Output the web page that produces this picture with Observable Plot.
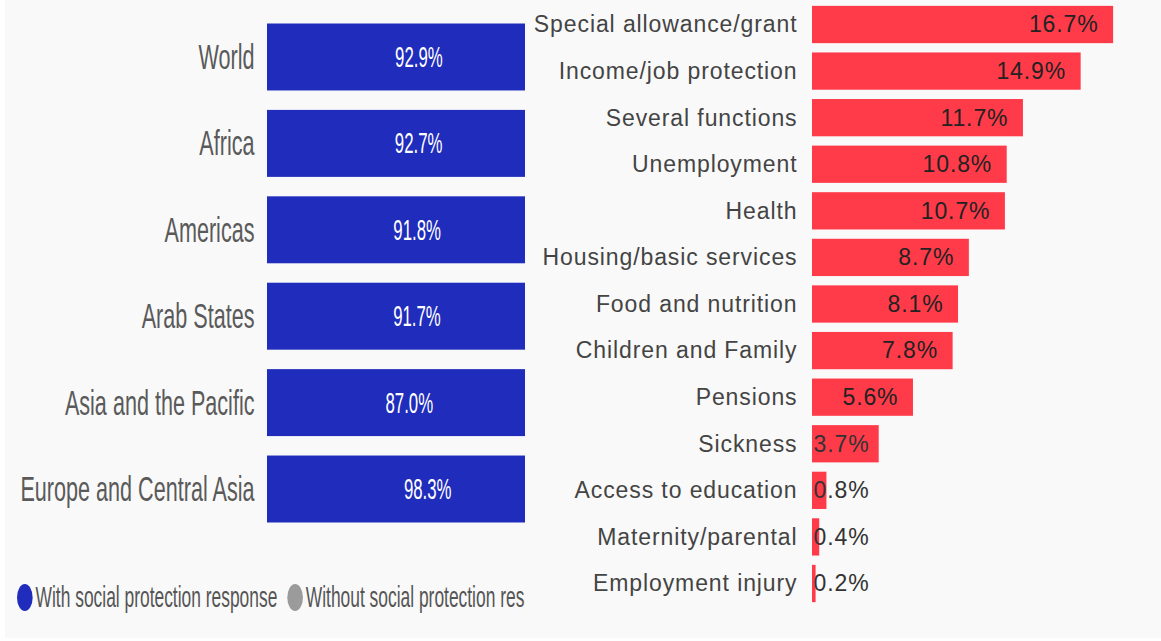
<!DOCTYPE html>
<html>
<head>
<meta charset="utf-8">
<script src="https://cdn.jsdelivr.net/npm/d3@7"></script>
<script src="https://cdn.jsdelivr.net/npm/@observablehq/plot@0.6"></script>
<style>
  html, body { margin: 0; padding: 0; background: #ffffff; }
  #page { position: relative; width: 1161px; height: 641px; overflow: hidden; }
  #bg { position: absolute; left: 5px; top: 0; width: 1156px; height: 638px; background: #f9f9f9; }
  #left { position: absolute; left: 0; top: 0; width: 525px; height: 546px; overflow: hidden; }
  #right { position: absolute; left: 525px; top: 0; width: 636px; height: 608px; overflow: hidden; }
  #legendClip { position: absolute; left: 0; top: 580px; width: 525px; height: 36px; overflow: hidden; }
  #legend { position: absolute; left: 17px; top: 0; height: 34px; line-height: 34px; white-space: nowrap;
            font-family: "Liberation Sans", Arial, sans-serif; font-size: 30px; color: #555;
            transform: scaleX(0.58); transform-origin: 0 0; display: flex; align-items: center; }
  .item { display: inline-flex; align-items: center; }
  .swatch { display: inline-block; width: 27px; height: 27px; border-radius: 50%; margin-right: 5px; }
  .item + .item { margin-left: 17px; }
</style>
</head>
<body>
<div id="page">
  <div id="bg"></div>
  <div id="left"></div>
  <div id="right"></div>
  <div id="legendClip"><div id="legend"></div></div>
</div>
<script>
// ---- data ----
const regions = ["World", "Africa", "Americas", "Arab States", "Asia and the Pacific", "Europe and Central Asia"];
const withResponse = [92.9, 92.7, 91.8, 91.7, 87.0, 98.3];
const statusLabels = ["With social protection response", "Without social protection response"];
const statusColors = ["#1f2cbc", "#9b9b9b"];

const functions = ["Special allowance/grant", "Income/job protection", "Several functions", "Unemployment",
  "Health", "Housing/basic services", "Food and nutrition", "Children and Family", "Pensions",
  "Sickness", "Access to education", "Maternity/parental", "Employment injury"];
const functionShares = [16.7, 14.9, 11.7, 10.8, 10.7, 8.7, 8.1, 7.8, 5.6, 3.7, 0.8, 0.4, 0.2];

// ---- left panel: regions ----
const leftRows = regions.flatMap((r, i) => [
  {region: r, status: statusLabels[0], value: withResponse[i]},
  {region: r, status: statusLabels[1], value: +(100 - withResponse[i]).toFixed(1)}
]);
const withRows = regions.map((r, i) => ({region: r, value: withResponse[i]}));

const leftPlot = Plot.plot({
  width: 525, height: 546,
  marginLeft: 267, marginRight: 0, marginTop: 0, marginBottom: 0,
  style: {background: "transparent", fontFamily: "Liberation Sans, Arial, sans-serif", color: "#5a5a5a"},
  x: {domain: [0, 100], range: [267, 593], axis: null},
  y: {domain: regions, paddingInner: 0.225, paddingOuter: 0.272, round: false, axis: null},
  color: {domain: statusLabels, range: statusColors},
  marks: [
    Plot.barX(leftRows, {x: "value", y: "region", fill: "status"}),
    Plot.text(withRows, {x: d => d.value / 2, y: "region", text: d => d.value.toFixed(1) + "%",
      fill: "white", fontSize: 30}),
    Plot.text(withRows, {x: 0, y: "region", text: "region", textAnchor: "end", dx: -13,
      fill: "#5a5a5a", fontSize: 36})
  ]
});

function squeeze(svg, k, filter) {
  svg.querySelectorAll("text").forEach(t => {
    const kk = typeof k === "function" ? k(t) : k;
    const tr = t.getAttribute("transform");
    if (tr) t.setAttribute("transform", tr + ` scale(${kk},1)`);
    else {
      const x = +t.getAttribute("x") || 0, y = +t.getAttribute("y") || 0;
      t.setAttribute("transform", `translate(${x},${y}) scale(${kk},1)`);
      t.setAttribute("x", 0); t.setAttribute("y", 0);
    }
  });
}
// value labels (white) slightly narrower than category labels
squeeze(leftPlot, t => {
  const f = t.getAttribute("fill") || (t.parentNode && t.parentNode.getAttribute("fill"));
  return f === "white" ? 0.56 : 0.6;
});
document.getElementById("left").appendChild(leftPlot);

// legend
const legend = document.getElementById("legend");
statusLabels.forEach((lab, i) => {
  const item = document.createElement("span");
  item.className = "item";
  const sw = document.createElement("span");
  sw.className = "swatch";
  sw.style.background = statusColors[i];
  const tx = document.createElement("span");
  tx.textContent = lab;
  item.appendChild(sw); item.appendChild(tx);
  legend.appendChild(item);
});

// ---- right panel: functions ----
const fnRows = functions.map((f, i) => ({fn: f, value: functionShares[i]}));
const insideMin = 4.5;
const rightPlot = Plot.plot({
  width: 636, height: 608,
  marginLeft: 287, marginRight: 0, marginTop: 0, marginBottom: 0,
  style: {background: "transparent", fontFamily: "Liberation Sans, Arial, sans-serif", color: "#444", letterSpacing: "0.9px"},
  x: {domain: [0, 20], range: [287, 647.6], axis: null},
  y: {domain: functions, paddingInner: 0.2, paddingOuter: 0.126, round: false, axis: null},
  marks: [
    Plot.barX(fnRows, {x: "value", y: "fn", fill: "#ff3b4a"}),
    Plot.text(fnRows.filter(d => d.value >= insideMin), {x: "value", y: "fn", text: d => d.value.toFixed(1) + "%",
      textAnchor: "end", dx: -15, fill: "#222", fontSize: 23}),
    Plot.text(fnRows.filter(d => d.value < insideMin), {x: 0, y: "fn", text: d => d.value.toFixed(1) + "%",
      textAnchor: "start", dx: 1, fill: "#333", fontSize: 23}),
    Plot.text(fnRows, {x: 0, y: "fn", text: "fn", textAnchor: "end", dx: -15, fill: "#444", fontSize: 23})
  ]
});
document.getElementById("right").appendChild(rightPlot);
</script>
</body>
</html>
